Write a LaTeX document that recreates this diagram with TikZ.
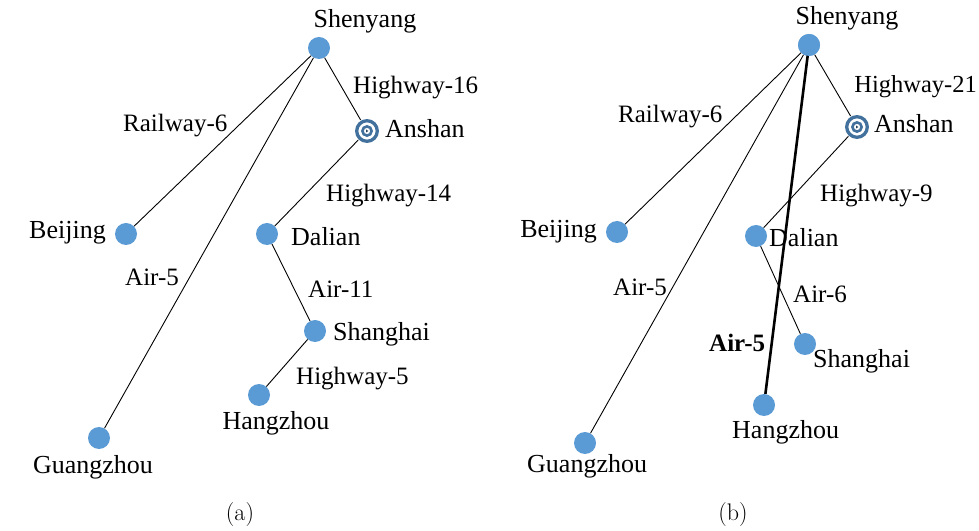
\documentclass[tikz,border=0pt]{standalone}
\usepackage{fontspec}
\newfontfamily\cityfont{Liberation Serif}
\newfontfamily\edgefont{Liberation Serif}
\definecolor{nodeblue}{HTML}{5B9BD5}
\definecolor{ringblue}{HTML}{41719C}
\tikzset{
  city/.style={circle,fill=nodeblue,minimum size=22pt,inner sep=0pt},
  hub/.style={circle,minimum size=25pt,inner sep=0pt},
  cname/.style={font=\cityfont\fontsize{26}{30}\selectfont,inner sep=0pt},
  ename/.style={font=\edgefont\fontsize{25}{30}\selectfont,inner sep=0pt},
  capt/.style={font=\fontsize{24}{28}\selectfont,inner sep=0pt},
  link/.style={draw=black,line width=0.9pt},
  boldlink/.style={draw=black,line width=2.6pt}
}
\newcommand{\hubmark}[1]{%
  \draw[ringblue,line width=3.3pt] (#1) circle (10.3pt);
  \draw[ringblue,line width=2.6pt] (#1) circle (4.6pt);
  \fill[ringblue!60!black] (#1) ++(-1pt,1.5pt) -- ++(2.4pt,-1.5pt) -- ++(-2.4pt,-1.5pt) -- cycle;
}
\begin{document}
\begin{tikzpicture}[x=1pt,y=1pt]
\useasboundingbox (0,0) rectangle (979,530);
\fill[white] (0,0) rectangle (979,530);

% ---------- panel (a) ----------
\node[city] (sa) at (319,482) {};
\node[hub]  (ana) at (367,399) {};
\node[city] (bja) at (126,296) {};
\node[city] (dla) at (267,296) {};
\node[city] (gza) at (99,92) {};
\node[city] (sha) at (315,199) {};
\node[city] (hza) at (259,135) {};

\draw[link] (sa) -- (bja);
\draw[link] (sa) -- (gza);
\draw[link] (sa) -- (ana);
\draw[link] (ana) -- (dla);
\draw[link] (dla) -- (sha);
\draw[link] (sha) -- (hza);
\hubmark{ana}

\node[cname,anchor=base] (tsa) at (365,502) {Shenyang};
\node[cname,anchor=base west] (tana) at (385,392) {Anshan};
\node[cname,anchor=base east] (tbja) at (106,291) {Beijing};
\node[cname,anchor=base west] (tdla) at (291,284) {Dalian};
\node[cname,anchor=base west] (tsha) at (333,189) {Shanghai};
\node[cname,anchor=base] (thza) at (276,100) {Hangzhou};
\node[cname,anchor=base] (tgza) at (93,57) {Guangzhou};

\node[ename,anchor=base west] (e1a) at (353,436) {Highway-16};
\node[ename,anchor=base west] (e2a) at (123,398) {Railway-6};
\node[ename,anchor=base west] (e3a) at (326,328) {Highway-14};
\node[ename,anchor=base west] (e4a) at (125,244) {Air-5};
\node[ename,anchor=base west] (e5a) at (308,232) {Air-11};
\node[ename,anchor=base west] (e6a) at (296,145) {Highway-5};

\node[capt,anchor=base] (capa) at (240,10) {(a)};

% ---------- panel (b) ----------
\node[city] (sb) at (809,485) {};
\node[hub]  (anb) at (857,403) {};
\node[city] (bjb) at (617,298) {};
\node[city] (dlb) at (756,294) {};
\node[city] (gzb) at (585,87) {};
\node[city] (shb) at (805,186) {};
\node[city] (hzb) at (764,125) {};

\draw[link] (sb) -- (bjb);
\draw[link] (sb) -- (gzb);
\draw[link] (sb) -- (anb);
\draw[link] (anb) -- (dlb);
\draw[link] (dlb) -- (shb);
\draw[boldlink] (sb.center) -- (hzb);
\node[city] at (sb) {};
\hubmark{anb}

\node[cname,anchor=base] (tsb) at (847,505) {Shenyang};
\node[cname,anchor=base west] (tanb) at (874,397) {Anshan};
\node[cname,anchor=base east] (tbjb) at (597,292) {Beijing};
\node[cname,anchor=base west] (tdlb) at (769,283) {Dalian};
\node[cname,anchor=base west] (tshb) at (813,162) {Shanghai};
\node[cname,anchor=base west] (thzb) at (732,92) {Hangzhou};
\node[cname,anchor=base west] (tgzb) at (527,58) {Guangzhou};

\node[ename,anchor=base east,font=\edgefont\fontsize{24.5}{30}\selectfont] (e1b) at (977,437) {Highway-21};
\node[ename,anchor=base west] (e2b) at (618,407) {Railway-6};
\node[ename,anchor=base west] (e3b) at (820,328) {Highway-9};
\node[ename,anchor=base west] (e4b) at (613,234) {Air-5};
\node[ename,anchor=base west] (e5b) at (793,227) {Air-6};
\node[ename,anchor=base west,font=\edgefont\bfseries\fontsize{25}{30}\selectfont] (e6b) at (709,178) {Air-5};

\node[capt,anchor=base] (capb) at (733,10) {(b)};
\end{tikzpicture}
\end{document}
